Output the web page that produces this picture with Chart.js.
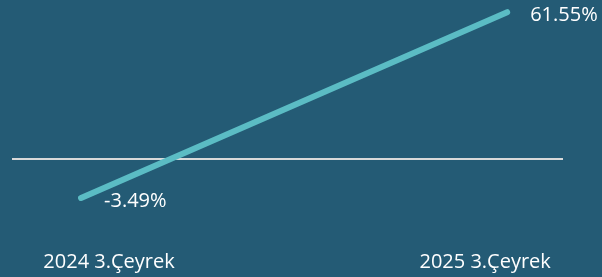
<!DOCTYPE html>
<html>
<head>
<meta charset="utf-8">
<script src="https://cdn.jsdelivr.net/npm/chart.js@4.4.0/dist/chart.umd.min.js"></script>
<style>
    html, body { margin: 0; padding: 0; background: #245b75; }
    #wrap { width: 602px; height: 277px; }
</style>
</head>
<body>
<div id="wrap"><canvas id="trendChart"></canvas></div>
<script>
// Chart data
const periods = ['2024 3.Çeyrek', '2025 3.Çeyrek'];
const changePct = [-3.49, 61.55];
const referenceLevel = 10;

document.addEventListener('DOMContentLoaded', function() {
    const ctx = document.getElementById('trendChart').getContext('2d');

    // writes the % value next to each point
    const valueLabels = {
        id: 'valueLabels',
        afterDatasetsDraw(chart) {
            const c = chart.ctx;
            const meta = chart.getDatasetMeta(0);
            c.save();
            c.font = '20px "Open Sans"';
            c.fillStyle = '#ffffff';
            c.textAlign = 'left';
            c.textBaseline = 'middle';
            meta.data.forEach(function(pt, i) {
                const txt = changePct[i].toFixed(2) + '%';
                c.fillText(txt, pt.x + 23, pt.y + 3);
            });
            c.restore();
        }
    };

    new Chart(ctx, {
        type: 'line',
        data: {
            datasets: [{
                label: 'Değişim',
                data: changePct.map(function(v, i) { return { x: i, y: v }; }),
                borderColor: '#5bbcc4',
                borderWidth: 6,
                borderCapStyle: 'round',
                pointRadius: 0,
                clip: false,
                xAxisID: 'x',
                yAxisID: 'y'
            }]
        },
        plugins: [valueLabels],
        options: {
            responsive: true,
            maintainAspectRatio: false,
            animation: false,
            layout: { padding: { left: 12, right: 39, top: 0, bottom: -5 } },
            plugins: {
                legend: { display: false },
                tooltip: { enabled: false }
            },
            scales: {
                x: {
                    type: 'linear',
                    display: false,
                    min: -0.162,
                    max: 1.131
                },
                xl: {
                    type: 'linear',
                    position: 'bottom',
                    min: -0.258,
                    max: 1.207,
                    afterBuildTicks: function(axis) {
                        axis.ticks = periods.map(function(p, i) { return { value: i }; });
                    },
                    grid: { display: false },
                    border: { display: false },
                    ticks: {
                        color: '#ffffff',
                        font: { family: 'Open Sans', size: 20 },
                        maxRotation: 0,
                        padding: 8,
                        callback: function(v) { return periods[v]; }
                    }
                },
                y: {
                    min: -16.1,
                    max: 65.8,
                    afterBuildTicks: function(axis) {
                        axis.ticks = [{ value: referenceLevel }];
                    },
                    ticks: { display: false },
                    border: { display: false },
                    grid: {
                        color: '#d9d9d9',
                        lineWidth: 2,
                        drawTicks: false
                    }
                }
            }
        }
    });
});
</script>
</body>
</html>
